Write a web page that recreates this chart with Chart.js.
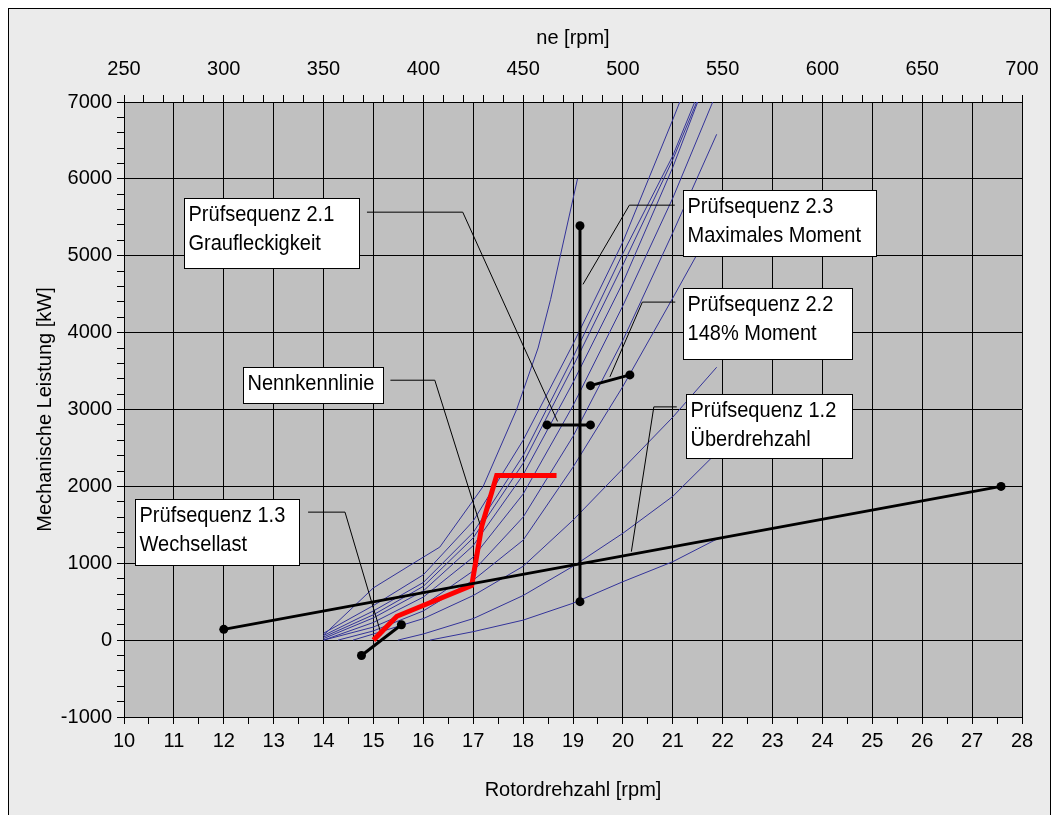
<!DOCTYPE html>
<html>
<head>
<meta charset="utf-8">
<script src="https://cdn.jsdelivr.net/npm/chart.js@4.4.1/dist/chart.umd.min.js"></script>
<style>
html, body { margin: 0; padding: 0; background: #fff; }
canvas { display: block; }
</style>
</head>
<body>
<canvas id="myChart" width="1058" height="815"></canvas>
<script>
// Kennlinien: Rotordrehzahl [rpm] / Leistung [kW]
const k1Rotor = [14, 15, 15.8, 16.33, 17.2, 17.87, 18.3, 18.55, 19.09]
const k1Leist = [65, 680, 1000, 1210, 2000, 3000, 3800, 4430, 6000]
const k2Rotor = [14, 15, 16, 17, 18, 19, 20, 21, 21.14]
const k2Leist = [90, 450, 850, 1550, 2600, 3850, 5180, 6770, 7000]
const k3Rotor = [14, 15, 16, 17, 18, 19, 20, 21, 21.44]
const k3Leist = [60, 380, 750, 1400, 2400, 3680, 5030, 6300, 7000]
const k4Rotor = [14, 15, 16, 17, 18, 19, 20, 21, 21.48]
const k4Leist = [40, 330, 700, 1330, 2300, 3560, 4880, 6250, 7000]
const k5Rotor = [14, 15, 16, 17, 18, 19, 20, 21, 21.5]
const k5Leist = [20, 290, 640, 1230, 2150, 3350, 4650, 6150, 7000]
const k6Rotor = [14, 15, 16, 17, 18, 19, 20, 21, 21.8]
const k6Leist = [0, 230, 560, 1080, 1900, 3050, 4350, 5750, 7000]
const k7Rotor = [14, 15, 16, 17, 18, 19, 20, 21, 21.88]
const k7Leist = [0, 170, 450, 900, 1600, 2650, 3900, 5300, 6580]
const k8Rotor = [14.29, 15, 16, 17, 18, 19, 20, 21, 21.9]
const k8Leist = [0, 120, 380, 780, 1300, 2250, 3300, 4450, 5500]
const k9Rotor = [14.59, 15, 16, 17, 18, 19, 20, 21, 21.88]
const k9Leist = [0, 80, 280, 580, 960, 1560, 2230, 2900, 3550]
const k10Rotor = [15.49, 16, 17, 18, 19, 20, 21, 21.9]
const k10Leist = [0, 80, 280, 580, 960, 1390, 1870, 2450]
const k11Rotor = [16.13, 17, 18, 19, 20, 21, 21.93]
const k11Leist = [0, 110, 260, 480, 760, 1020, 1330]

// Nennkennlinie (rot)
const nennRotor = [15.0, 15.47, 16.97, 17.17, 17.47, 18.67]
const nennLeist = [0, 310, 710, 1480, 2140, 2140]

// Prüfsequenzen (schwarz)
const p12Rotor = [12.0, 27.58]
const p12Leist = [140, 2000]
const p13Rotor = [14.76, 15.56]
const p13Leist = [-200, 200]
const p21Rotor = [18.48, 19.35]
const p21Leist = [2800, 2800]
const p22Rotor = [19.35, 20.14]
const p22Leist = [3310, 3450]
const p23Rotor = [19.14, 19.14]
const p23Leist = [500, 5390]

// Achsen
const rotorAchse = [10, 28]
const leistAchse = [-1000, 7000]
const neAchse = [250, 700]

// Beschriftungen mit Hinweislinien
const notas = [
  { texto: ['Prüfsequenz 2.1', 'Graufleckigkeit'], caja: [11.2, 5750, 14.72, 4837], linea: [[14.87, 5567], [16.79, 5567], [18.69, 2845]] },
  { texto: ['Prüfsequenz 2.3', 'Maximales Moment'], caja: [21.2, 5850, 25.07, 5000], linea: [[21.04, 5658], [20.13, 5658], [19.2, 4628]] },
  { texto: ['Prüfsequenz 2.2', '148% Moment'], caja: [21.2, 4577, 24.59, 3651], linea: [[21.05, 4397], [20.39, 4397], [19.74, 3425]] },
  { texto: ['Nennkennlinie'], caja: [12.39, 3556, 15.19, 3087], linea: [[15.34, 3381], [16.23, 3381], [17.15, 1477]] },
  { texto: ['Prüfsequenz 1.2', 'Überdrehzahl'], caja: [21.26, 3208, 24.59, 2373], linea: [[21.08, 3034], [20.62, 3034], [20.17, 1151]] },
  { texto: ['Prüfsequenz 1.3', 'Wechsellast'], caja: [10.22, 1839, 13.51, 978], linea: [[13.69, 1665], [14.43, 1665], [15.16, 65]] }
]

const puntos = (xs, ys) => xs.map((x, i) => ({ x: x, y: ys[i] }))

const serie = (data, color, ancho, radio) => ({
  data: data,
  borderColor: color,
  backgroundColor: color,
  borderWidth: ancho,
  pointRadius: radio,
  pointHoverRadius: radio,
  pointBorderWidth: 0,
  showLine: true,
  fill: false,
  tension: 0,
  borderCapStyle: 'butt',
  borderJoinStyle: 'miter'
})

let datasets = []
// schwarz zuerst (oben gezeichnet)
datasets.push(serie(puntos(p23Rotor, p23Leist), '#000', 3, 4.5))
datasets.push(serie(puntos(p21Rotor, p21Leist), '#000', 3, 4.5))
datasets.push(serie(puntos(p22Rotor, p22Leist), '#000', 3, 4.5))
datasets.push(serie(puntos(p13Rotor, p13Leist), '#000', 3, 4.5))
datasets.push(serie(puntos(p12Rotor, p12Leist), '#000', 3, 4.5))
datasets.push(serie(puntos(nennRotor, nennLeist), '#ff0000', 5, 0))
notas.forEach(n => {
  datasets.push(serie(n.linea.map(p => ({ x: p[0], y: p[1] })), '#000', 1, 0))
})
const kurven = [
  [k1Rotor, k1Leist], [k2Rotor, k2Leist], [k3Rotor, k3Leist], [k4Rotor, k4Leist],
  [k5Rotor, k5Leist], [k6Rotor, k6Leist], [k7Rotor, k7Leist], [k8Rotor, k8Leist],
  [k9Rotor, k9Leist], [k10Rotor, k10Leist], [k11Rotor, k11Leist]
]
kurven.forEach(k => datasets.push(serie(puntos(k[0], k[1]), '#333399', 1, 0)))

const fuente = { family: '"Liberation Sans", Arial, sans-serif', size: 20 }
const transparente = 'rgba(0,0,0,0)'

const fondo = {
  id: 'fondo',
  beforeDraw(chart) {
    const { ctx, chartArea: a } = chart
    ctx.save()
    ctx.fillStyle = '#fff'
    ctx.fillRect(0, 0, chart.width, chart.height)
    ctx.fillStyle = '#ebebeb'
    ctx.fillRect(9, 9, 1041, 810)
    ctx.strokeStyle = '#000'
    ctx.lineWidth = 1
    ctx.strokeRect(8.5, 8.5, 1042, 812)
    ctx.fillStyle = '#c0c0c0'
    ctx.fillRect(a.left, a.top, a.right - a.left, a.bottom - a.top)
    ctx.restore()
  },
  afterDatasetsDraw(chart) {
    const { ctx } = chart
    const xs = chart.scales.x
    const ys = chart.scales.y
    ctx.save()
    notas.forEach(n => {
      const x0 = Math.round(xs.getPixelForValue(n.caja[0])) + 0.5
      const y0 = Math.round(ys.getPixelForValue(n.caja[1])) + 0.5
      const x1 = Math.round(xs.getPixelForValue(n.caja[2])) + 0.5
      const y1 = Math.round(ys.getPixelForValue(n.caja[3])) + 0.5
      ctx.fillStyle = '#fff'
      ctx.fillRect(x0, y0, x1 - x0, y1 - y0)
      ctx.strokeStyle = '#000'
      ctx.lineWidth = 1
      ctx.strokeRect(x0, y0, x1 - x0, y1 - y0)
      ctx.fillStyle = '#000'
      ctx.font = '22px "Liberation Sans", Arial, sans-serif'
      ctx.textBaseline = 'alphabetic'
      ctx.textAlign = 'left'
      n.texto.forEach((t, i) => {
        ctx.save()
        ctx.translate(x0 + 4, y0 + 22.5 + i * 28.5)
        ctx.scale(0.91, 1)
        ctx.fillText(t, 0, 0)
        ctx.restore()
      })
    })
    ctx.restore()
  }
}

let ctx = document.getElementById('myChart')
let myChart = new Chart(ctx, {
  type: 'scatter',
  data: { datasets: datasets },
  plugins: [fondo],
  options: {
    responsive: false,
    animation: false,
    events: [],
    layout: { padding: { left: 0, right: 36, top: 0, bottom: 0 } },
    plugins: { legend: { display: false }, tooltip: { enabled: false } },
    scales: {
      x: {
        type: 'linear',
        position: 'bottom',
        min: rotorAchse[0],
        max: rotorAchse[1],
        ticks: {
          stepSize: 0.5,
          autoSkip: false,
          maxRotation: 0,
          color: '#000',
          font: fuente,
          padding: 5,
          callback: v => Number.isInteger(v) ? String(v) : ''
        },
        grid: {
          color: c => c.tick && Number.isInteger(c.tick.value) ? '#000' : transparente,
          tickColor: '#000',
          tickLength: 7,
          lineWidth: 1
        },
        border: { color: '#000', width: 1 },
        title: { display: true, text: 'Rotordrehzahl [rpm]', color: '#000', font: fuente, padding: { top: 0, bottom: 13 } },
        afterFit: s => { s.height = 98 }
      },
      x2: {
        type: 'linear',
        position: 'top',
        min: neAchse[0],
        max: neAchse[1],
        ticks: {
          stepSize: 10,
          autoSkip: false,
          maxRotation: 0,
          color: '#000',
          font: fuente,
          padding: 14,
          callback: v => v % 50 === 0 ? String(v) : ''
        },
        grid: { drawOnChartArea: false, color: '#000', tickLength: 7, lineWidth: 1 },
        border: { color: '#000', width: 1 },
        title: { display: true, text: 'ne [rpm]', color: '#000', font: fuente, padding: { top: 26, bottom: 0 } },
        afterFit: s => { s.height = 102 }
      },
      y: {
        type: 'linear',
        position: 'left',
        min: leistAchse[0],
        max: leistAchse[1],
        ticks: {
          stepSize: 200,
          autoSkip: false,
          color: '#000',
          font: fuente,
          padding: 5,
          callback: v => v % 1000 === 0 ? String(v) : ''
        },
        grid: {
          color: c => c.tick && c.tick.value % 1000 === 0 ? '#000' : transparente,
          tickColor: '#000',
          tickLength: 7,
          lineWidth: 1
        },
        border: { color: '#000', width: 1 },
        title: { display: true, text: 'Mechanische Leistung [kW]', color: '#000', font: fuente, padding: { top: 33, bottom: 0 } },
        afterFit: s => { s.width = 124 }
      }
    }
  }
})
</script>
</body>
</html>
